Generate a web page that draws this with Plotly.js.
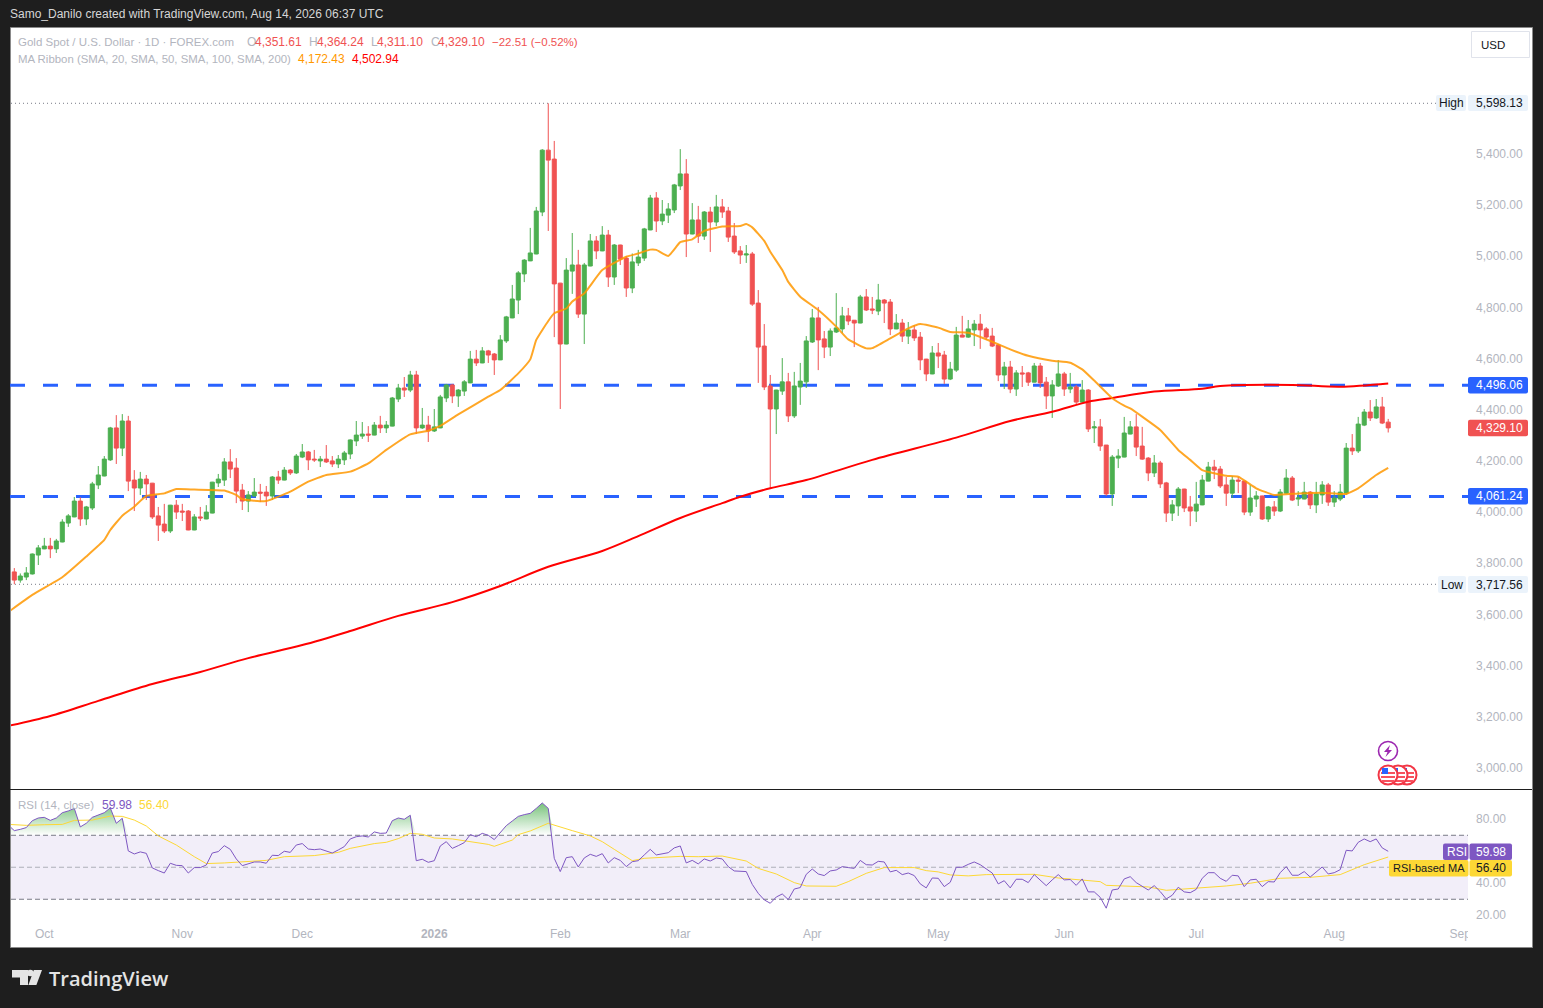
<!DOCTYPE html>
<html>
<head>
<meta charset="utf-8">
<script src="https://cdn.plot.ly/plotly-3.0.1.min.js"></script>
<style>html,body{margin:0;padding:0;background:#1e1e1e;overflow:hidden}</style>
</head>
<body>
<div id="chart" style="width:1543px;height:1008px"></div>
<script>
// Daily candles (first candle is index 0)
const open = [
3766,3734,3746,3758,3832,3856,3867,3856,3883,3957,
3981,4043,3973,4016,4106,4141,4204,4329,4250,4356,
4125,4094,4129,4113,3985,3953,3926,4027,4004,4004,
3930,3981,3973,3996,4114,4125,4196,4172,4086,4043,
4063,4078,4078,4063,4137,4125,4164,4153,4215,4235,
4207,4200,4207,4200,4188,4204,4227,4278,4297,4305,
4301,4340,4329,4336,4442,4485,4477,4536,4329,4340,
4317,4329,4446,4497,4454,4473,4505,4598,4583,4630,
4618,4595,4669,4759,4829,4931,4982,5009,5173,5415,
5380,4895,4657,4942,4966,4774,4962,5060,5021,5083,
4919,5044,4993,4876,4974,4993,5103,5228,5138,5161,
5181,5275,5322,5087,5142,5079,5173,5134,5193,5177,
5079,5021,5005,5009,4817,4649,4493,4403,4473,4509,
4376,4489,4509,4665,4759,4677,4645,4704,4716,4767,
4750,4739,4841,4794,4786,4829,4821,4716,4739,4688,
4712,4684,4598,4540,4622,4614,4520,4555,4692,4684,
4712,4735,4716,4688,4653,4536,4567,4481,4544,4544,
4508,4571,4508,4454,4493,4540,4481,4489,4430,4477,
4329,4333,4262,4071,4211,4215,4305,4333,4258,4211,
4153,4192,4114,3996,4024,4090,4020,4004,4028,4121,
4176,4168,4106,4074,4125,4121,4000,4051,4063,3973,
4020,4004,4074,4133,4051,4051,4078,4028,4067,4106,
4039,4051,4074,4250,4239,4340,4391,4368,4411,4351.61];
const high = [
3781,3760,3785,3838,3871,3899,3899,3895,3972,3992,
4059,4058,4024,4118,4180,4219,4333,4379,4383,4376,
4164,4157,4145,4114,4020,4032,4028,4047,4032,4008,
3992,4020,4027,4118,4149,4211,4246,4211,4110,4082,
4133,4110,4102,4141,4161,4176,4168,4227,4266,4239,
4243,4219,4262,4219,4223,4239,4284,4356,4352,4336,
4352,4376,4356,4450,4501,4528,4552,4552,4407,4376,
4403,4458,4501,4501,4481,4516,4630,4634,4645,4634,
4622,4692,4767,4888,4942,4989,5111,5193,5419,5598.13,
5451,4896,4993,5091,5025,4974,5087,5079,5118,5103,
5048,5045,5001,5011,5025,5111,5240,5251,5220,5208,
5283,5419,5380,5208,5197,5177,5193,5240,5224,5193,
5130,5040,5044,5017,4868,4735,4536,4478,4602,4544,
4548,4583,4688,4794,4802,4708,4718,4856,4802,4798,
4751,4849,4872,4841,4892,4833,4833,4774,4755,4743,
4731,4704,4599,4649,4661,4630,4587,4724,4767,4751,
4751,4774,4723,4720,4657,4587,4591,4555,4571,4548,
4583,4583,4528,4516,4594,4548,4544,4497,4516,4481,
4356,4364,4262,4223,4246,4372,4356,4383,4333,4215,
4223,4200,4118,4047,4098,4091,4063,4118,4145,4196,
4204,4180,4137,4141,4137,4122,4106,4082,4064,4024,
4043,4090,4168,4141,4082,4118,4082,4118,4121,4114,
4082,4110,4270,4305,4372,4403,4438,4442,4450,4364.24];
const low = [
3717.56,3724,3734,3756,3793,3855,3820,3840,3882,3942,
3980,3946,3949,4008,4090,4140,4200,4188,4219,4082,
4004,4067,4047,3973,3887,3918,3918,3973,3965,3929,
3929,3965,3972,3995,4098,4102,4133,4035,4008,4000,
4059,4039,4024,4047,4110,4124,4145,4149,4211,4164,
4196,4176,4192,4176,4172,4184,4207,4258,4286,4274,
4300,4309,4309,4335,4430,4450,4469,4305,4325,4274,
4313,4328,4430,4426,4411,4454,4504,4571,4582,4583,
4536,4594,4661,4758,4774,4899,4981,5008,5157,5099,
4684,4403,4656,4853,4759,4657,4961,4989,5020,4880,
4888,4966,4841,4856,4962,4982,5102,5095,5122,5130,
5169,5259,4997,5086,5052,5064,5017,5118,5150,5056,
5009,4970,4974,4806,4505,4477,4094,4305,4458,4352,
4368,4419,4485,4661,4555,4602,4610,4700,4700,4731,
4645,4738,4786,4774,4770,4739,4692,4715,4665,4657,
4669,4555,4512,4539,4563,4501,4516,4548,4683,4681,
4649,4638,4673,4645,4512,4481,4465,4454,4489,4493,
4507,4485,4403,4368,4489,4454,4465,4422,4426,4313,
4270,4239,4063,4024,4172,4214,4304,4219,4204,4121,
4137,4094,3961,3965,3985,4000,3945,3961,4027,4120,
4129,4094,4024,4055,4074,3988,3985,4020,3969,3961,
3985,4000,4071,4043,4024,4050,4012,3996,4032,4024,
4020,4043,4067,4223,4231,4336,4356,4364,4344,4311.10];
const close = [
3734,3750,3762,3836,3860,3867,3856,3887,3961,3985,
4043,3973,4020,4110,4145,4207,4329,4250,4356,4121,
4094,4129,4110,3981,3949,3926,4027,4000,4000,3930,
3981,3977,4000,4117,4129,4196,4168,4082,4043,4067,
4078,4074,4063,4137,4125,4164,4153,4219,4235,4204,
4204,4207,4196,4188,4207,4231,4282,4301,4305,4301,
4340,4329,4340,4446,4485,4477,4536,4329,4340,4317,
4333,4450,4497,4454,4477,4509,4598,4583,4630,4614,
4595,4673,4763,4833,4935,4985,5013,5177,5415,5376,
4892,4657,4946,4966,4774,4966,5060,5021,5083,4919,
5044,4989,4876,4978,4997,5107,5228,5138,5165,5185,
5279,5322,5087,5142,5079,5173,5134,5193,5173,5075,
5017,5005,5009,4813,4645,4489,4403,4477,4509,4376,
4493,4512,4669,4759,4673,4645,4708,4720,4767,4747,
4739,4841,4790,4790,4829,4817,4716,4739,4688,4712,
4681,4595,4540,4622,4610,4520,4559,4692,4684,4716,
4735,4712,4684,4649,4536,4567,4481,4544,4540,4508,
4571,4505,4454,4497,4540,4481,4489,4430,4477,4325,
4333,4258,4071,4215,4219,4309,4333,4254,4207,4153,
4192,4110,3996,4028,4090,4016,4004,4031,4125,4176,
4164,4102,4074,4125,4121,4000,4055,4063,3973,4020,
4004,4078,4133,4047,4055,4078,4028,4071,4106,4039,
4055,4078,4250,4239,4344,4391,4368,4411,4348,4329.10];

// SMA 20 and SMA 200: readings at the listed trading-day indexes
const sma20Idx = [-1,3,8,12,15,16,18,20,22,25,27,30,35,37,38,42,46,49,52,56,59,62,66,69,71,74,79,81,84,86,87,89,90,92,93,95,98,102,104,106,107,109,111,113,115,118,121,122,123,125,126,128,129,131,134,137,139,142,143,146,149,151,154,156,159,163,166,169,173,176,178,180,183,185,186,191,194,196,198,202,204,207,210,214,218,222,224,227,229];
const sma20 = [3609,3676,3745,3826,3891,3930,3986,4021,4063,4073,4090,4088,4084,4067,4050,4043,4080,4119,4145,4158,4190,4243,4304,4318,4337,4382,4451,4477,4542,4597,4673,4747,4777,4796,4823,4855,4946,4998,5011,5026,5025,5001,5055,5066,5099,5116,5118,5126,5113,5060,5018,4946,4900,4842,4790,4725,4675,4640,4641,4679,4718,4735,4721,4704,4701,4666,4636,4611,4592,4584,4558,4514,4445,4416,4405,4321,4243,4204,4164,4142,4138,4093,4067,4073,4076,4071,4093,4145,4172.43];
const sma200Idx = [-1,6,14,23,31,39,48,56,64,73,81,89,98,104,111,118,121,126,132,143,157,166,173,179,183,190,198,201,213,221,229];
const sma200 = [3164,3203,3262,3328,3375,3429,3480,3535,3594,3648,3711,3786,3848,3906,3977,4035,4060,4093,4125,4204,4291,4356,4392,4431,4446,4471,4482,4493,4497,4490,4502.94];

// RSI from index -1 to 229
const rsi = [
76.4,72.9,73.7,74.8,79.1,80.8,81.2,79.3,80.8,84.1,85.2,86.8,75.2,77.5,81.2,82.5,84.1,87.1,77.5,80.6,
60.2,58.3,59.6,58.7,49.6,47.9,46.4,52.5,51.2,51.0,46.4,49.8,49.8,51.4,58.9,59.8,63.5,61.2,55.2,51.0,
52.3,53.3,53.3,52.5,57.5,57.3,60.0,59.3,63.9,64.8,61.4,61.0,61.4,60.0,58.9,60.8,62.9,67.7,69.1,69.6,
68.9,72.1,71.2,71.4,79.1,80.8,80.0,82.5,54.1,55.0,53.1,54.1,63.3,66.0,61.8,63.5,65.4,70.4,69.1,71.2,
70.0,67.3,
71.6,76.0,78.9,81.8,82.9,83.7,86.8,90.2,86.8,55.6,47.3,56.0,56.6,50.2,55.8,58.1,56.8,58.5,52.7,56.0,
54.3,50.4,53.5,54.1,57.7,61.2,57.7,58.3,59.1,62.1,63.3,52.7,54.3,52.1,55.2,53.9,55.8,55.2,50.4,47.7,
47.3,47.3,39.3,33.7,29.6,27.5,31.4,33.3,29.8,36.4,37.3,45.6,48.9,45.8,44.8,47.7,48.3,50.4,49.8,49.3,
54.3,51.6,51.4,53.7,53.3,47.1,48.1,45.4,46.4,44.8,39.6,37.1,43.3,43.1,37.9,40.6,50.0,50.0,51.8,53.3,
51.6,49.1,46.4,39.6,
41.6,37.1,42.5,42.5,40.4,45.4,41.9,38.5,42.1,45.4,42.1,42.3,38.7,42.7,34.6,34.6,31.2,24.4,35.8,36.4,
42.7,44.1,40.4,37.9,35.8,38.5,34.8,30.2,32.5,37.5,34.6,34.1,36.2,43.1,46.6,46.6,43.1,41.2,45.0,44.6,
37.9,42.1,42.5,37.9,41.0,40.8,46.6,50.4,45.0,45.0,47.3,43.9,46.8,50.2,45.8,46.6,48.5,60.6,60.2,65.6,
67.7,66.0,67.7,62.1,59.98];
const rsiMaIdx = [-1,2,5,8,10,13,16,18,20,22,24,27,30,32,35,39,42,45,48,50,54,56,60,62,64,66,68,70,73,76,79,80,83,84,86,89,91,93,96,98,100,103,105,108,111,114,118,122,124,127,130,132,137,139,142,145,150,152,154,156,159,162,164,170,174,181,182,186,189,192,197,202,206,211,216,221,225,229];
const rsiMa = [76.8,76.2,76.6,76.8,79.3,79.5,82.0,81.8,79.5,75.8,69.6,63.9,56.6,52.3,52.7,53.7,54.3,56.6,57.3,57.3,59.3,61.8,64.8,65.6,67.9,71.2,70.6,68.3,67.7,66.0,64.3,63.1,67.0,70.4,72.7,77.5,75.0,72.9,69.6,66.0,61.2,54.1,55.6,56.2,56.8,56.6,57.0,53.9,49.3,45.8,40.4,38.3,38.1,41.0,46.2,49.8,49.8,47.9,47.1,45.2,44.6,45.4,45.4,45.6,43.3,41.0,38.7,38.1,37.7,35.6,36.9,38.3,40.0,43.1,43.7,45.4,51.6,56.4];

// Reference levels and tick labels
const blueLevels = [4496.06, 4061.24];
const highLow = [5598.13, 3717.56];
const priceTicks = [3000,3200,3400,3600,3800,4000,4200,4400,4600,4800,5000,5200,5400];
const rsiTicks = [20,40,60,80];
const rsiBands = [70,50,30];
const monthIdx = [5,28,48,70,91,111,133,154,175,197,220,241];
const monthLabels = ['Oct','Nov','Dec','<b>2026</b>','Feb','Mar','Apr','May','Jun','Jul','Aug','Sep'];

const W = 1543, H = 1008;
const px = x => x / W, py = y => 1 - y / H;
const FONT = '"Liberation Sans", Arial, sans-serif';
const GREY = '#b2b5be', UP = '#4caf50', DOWN = '#f05252';

const idx = open.map((_, i) => i);
const rsiX = rsi.map((_, i) => i - 1);

const traces = [
  {type:'candlestick', x:idx, open, high, low, close, xaxis:'x', yaxis:'y', whiskerwidth:0,
   increasing:{line:{color:UP,width:1},fillcolor:UP}, decreasing:{line:{color:DOWN,width:1},fillcolor:DOWN},
   hoverinfo:'skip', showlegend:false},
  {type:'scatter', mode:'lines', x:sma200Idx, y:sma200, xaxis:'x', yaxis:'y', line:{color:'#ff0000',width:2,shape:'spline',smoothing:0.9}, hoverinfo:'skip'},
  {type:'scatter', mode:'lines', x:sma20Idx, y:sma20, xaxis:'x', yaxis:'y', line:{color:'#ff9800',width:2,shape:'spline',smoothing:0.4}, opacity:0.85, hoverinfo:'skip'},
  {type:'scatter', mode:'lines', x:rsiX, y:rsi.map(() => 70), xaxis:'x', yaxis:'y2', line:{width:0,color:'rgba(0,0,0,0)'}, hoverinfo:'skip'},
  {type:'scatter', mode:'lines', x:rsiX, y:rsi.map(v => Math.max(v,70)), xaxis:'x', yaxis:'y2', line:{width:0,color:'rgba(0,0,0,0)'}, fill:'tonexty',
   fillgradient:{type:'vertical', start:70, stop:90, colorscale:[[0,'rgba(76,175,80,0)'],[1,'rgba(76,175,80,0.75)']]}, hoverinfo:'skip'},
  {type:'scatter', mode:'lines', x:rsiMaIdx, y:rsiMa, xaxis:'x', yaxis:'y2', line:{color:'#fdd835',width:1}, hoverinfo:'skip'},
  {type:'scatter', mode:'lines', x:rsiX, y:rsi, xaxis:'x', yaxis:'y2', line:{color:'#7e57c2',width:1}, hoverinfo:'skip'}
];

function rect(x0,y0,x1,y1,fill,lineColor,layer){
  return {type:'rect',xref:'paper',yref:'paper',x0:px(x0),x1:px(x1),y0:py(y0),y1:py(y1),
    fillcolor:fill,line:{color:lineColor||'rgba(0,0,0,0)',width:lineColor?1:0},layer:layer||'above'};
}
function circle(cx,cy,r,fill,lineColor,w){
  return {type:'circle',xref:'paper',yref:'paper',x0:px(cx-r),x1:px(cx+r),y0:py(cy-r),y1:py(cy+r),
    fillcolor:fill,line:{color:lineColor,width:w},layer:'above'};
}
function path(pts,fill){
  const d = pts.map((p,i)=>(i?'L':'M')+px(p[0])+','+py(p[1])).join(' ')+' Z';
  return {type:'path',xref:'paper',yref:'paper',path:d,fillcolor:fill,line:{width:0},layer:'above'};
}
// rounded label background
function pill(x0,y0,x1,y1,fill){
  const r = 2, P = (x,y) => px(x)+','+py(y);
  const d = 'M'+P(x0+r,y0)+' L'+P(x1-r,y0)+' Q'+P(x1,y0)+' '+P(x1,y0+r)+' L'+P(x1,y1-r)+' Q'+P(x1,y1)+' '+P(x1-r,y1)+
            ' L'+P(x0+r,y1)+' Q'+P(x0,y1)+' '+P(x0,y1-r)+' L'+P(x0,y0+r)+' Q'+P(x0,y0)+' '+P(x0+r,y0)+' Z';
  return {type:'path',xref:'paper',yref:'paper',path:d,fillcolor:fill,line:{width:0},layer:'above'};
}
function flag(cx,cy){
  return [
    circle(cx,cy,9.5,'#ffffff','#f23645',2),
    rect(cx-7,cy+1,cx+7,cy+3,'#f7525f'),
    rect(cx-6,cy+5,cx+6,cy+7,'#f7525f'),
    rect(cx-7,cy-3,cx+7,cy-1,'#f7525f'),
    rect(cx-6,cy-7,cx,cy-1,'#2962ff')
  ];
}

const LOGO = '#e4e4e4';
const LBL = '#ebf3fb', BLUE = '#2962ff', PUR = '#7e57c2', YEL = '#fdd835', RED = '#f05252';
const shapes = [
  rect(10.5,27.5,1532.5,947.5,'#ffffff','#8a8a8a','below'),
  {type:'rect',xref:'paper',yref:'y2',x0:px(11),x1:px(1468),y0:30,y1:70,fillcolor:'rgba(126,87,194,0.1)',line:{width:0},layer:'below'},
  ...rsiBands.map(v => ({type:'line',xref:'paper',yref:'y2',x0:px(11),x1:px(1468),y0:v,y1:v,
    line:{color:v===50?'rgba(120,123,134,0.55)':'#787b86',width:1,dash:'5px,3px'},layer:'below'})),
  ...blueLevels.map(v => ({type:'line',xref:'paper',yref:'y',x0:px(10),x1:px(1468),y0:v,y1:v,
    line:{color:'#2962ff',width:3,dash:'15px,18px'},layer:'below'})),
  ...highLow.map(v => ({type:'line',xref:'paper',yref:'y',x0:px(11),x1:px(1436),y0:v,y1:v,
    line:{color:'#787b86',width:1,dash:'1px,3px'},layer:'below'})),
  rect(10,789,1532,790,'#1e1e1e'),
  rect(1468,926,1482,945,'#ffffff'),
  rect(1471.5,31.5,1529.5,57.5,'#ffffff','#e0e3eb'),
  circle(1388,751,9.5,'#ffffff','#9c27b0',1.6),
  path([[1390,745],[1384,752],[1387.5,752],[1385.5,757],[1392,750],[1388.5,750]],'#9c27b0'),
  ...flag(1407,775), ...flag(1398,775), ...flag(1388,775),
  path([[12,970],[28,970],[28,985],[20,985],[20,977.5],[12,977.5]],LOGO),
  circle(30.3,973,3.3,LOGO,LOGO,0),
  path([[33.8,970],[42,970],[36.4,985],[28.4,985]],LOGO),
  pill(1436,95,1466,111,LBL), pill(1468,95,1528,111,LBL),
  pill(1438,576,1466,593,LBL), pill(1468,576,1528,593,LBL),
  pill(1468,377,1528,393.5,BLUE), pill(1468,488,1528,504.5,BLUE),
  pill(1468,419.7,1528,436.2,RED),
  pill(1443,843.5,1468.5,860,PUR), pill(1469.5,843.5,1512,860,PUR),
  pill(1389,860,1468.5,876.5,YEL), pill(1469.5,860,1512,876.5,YEL)
];

function txt(text,x,y,color,size,extra){
  return Object.assign({text,xref:'paper',yref:'paper',x:px(x),y:py(y),xanchor:'left',yanchor:'middle',
    showarrow:false,borderpad:0,borderwidth:0,font:{family:FONT,size:size||12,color:color||GREY}},extra||{});
}

const annotations = [
  txt('Samo_Danilo created with TradingView.com, Aug 14, 2026 06:37 UTC',10,14.5,'#d6d6d6',12),
  txt('Gold Spot / U.S. Dollar · 1D · FOREX.com',18,42,GREY,11.5),
  txt('O',247,42), txt('4,351.61',254.5,42,RED),
  txt('H',309,42), txt('4,364.24',317,42,RED),
  txt('L',371,42), txt('4,311.10',377,42,RED),
  txt('C',430.5,42), txt('4,329.10',438,42,RED),
  txt('−22.51 (−0.52%)',492,42,RED,11.5),
  txt('MA Ribbon (SMA, 20, SMA, 50, SMA, 100, SMA, 200)',18,59,GREY,11.4),
  txt('4,172.43',298,59,'#ff9800'),
  txt('4,502.94',352,59,'#ff0000'),
  txt('USD',1481,45,'#131722',11.5),
  txt('RSI (14, close)',18,805,GREY,11.5),
  txt('59.98',102,805,PUR),
  txt('56.40',139,805,YEL),
  txt('High',1439,103,'#131722'),
  txt('5,598.13',1476,103,'#131722'),
  txt('Low',1441,584.5,'#131722'),
  txt('3,717.56',1476,584.5,'#131722'),
  txt('4,496.06',1476,385.2,'#ffffff'),
  txt('4,061.24',1476,496.3,'#ffffff'),
  txt('4,329.10',1476,428,'#ffffff'),
  txt('RSI',1447,851.7,'#ffffff'),
  txt('59.98',1476,851.7,'#ffffff'),
  txt('RSI-based MA',1393,868.2,'#131722',11),
  txt('56.40',1476,868.2,'#131722'),
  txt('TradingView',49,978,'#e4e4e4',20,{font:{family:'"Open Sans", '+FONT,size:20,color:'#e4e4e4',weight:600}})
];

const layout = {
  width:W, height:H, autosize:false,
  margin:{l:0,r:0,t:0,b:0,pad:0},
  paper_bgcolor:'#1e1e1e', plot_bgcolor:'rgba(0,0,0,0)',
  showlegend:false, hovermode:false, dragmode:false, boxgap:0.33, boxgroupgap:0,
  font:{family:FONT,size:12,color:GREY},
  xaxis:{domain:[px(11),px(1468)],range:[-0.55,242.3],anchor:'y2',tickmode:'array',tickvals:monthIdx,ticktext:monthLabels,
    showgrid:false,zeroline:false,showline:false,ticks:'',tickfont:{family:FONT,size:12,color:GREY},ticklabelstandoff:0,
    rangeslider:{visible:false},tickangle:0,automargin:false},
  yaxis:{domain:[py(789),py(28)],range:[2917.3,5892.5],anchor:'x',side:'right',tickmode:'array',tickvals:priceTicks,
    tickformat:',.2f',showgrid:false,zeroline:false,showline:false,ticks:'',ticklabelstandoff:7,tickfont:{family:FONT,size:12,color:GREY},automargin:false},
  yaxis2:{domain:[py(925),py(790)],range:[13.9,98.3],anchor:'x',side:'right',tickmode:'array',tickvals:rsiTicks,
    tickformat:'.2f',showgrid:false,zeroline:false,showline:false,ticks:'',ticklabelstandoff:7,tickfont:{family:FONT,size:12,color:GREY},automargin:false},
  shapes, annotations
};
Plotly.newPlot('chart',traces,layout,{displayModeBar:false,staticPlot:true});
</script>
</body>
</html>
